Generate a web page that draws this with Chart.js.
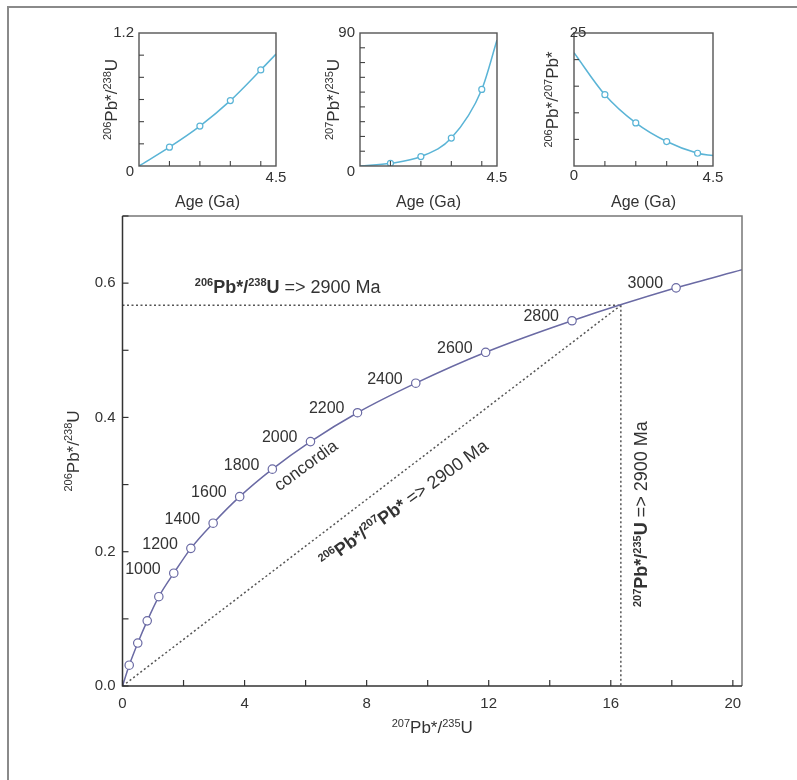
<!DOCTYPE html>
<html><head><meta charset="utf-8">
<script src="https://cdn.jsdelivr.net/npm/chart.js@4.4.0/dist/chart.umd.min.js"></script>
<style>
html,body{margin:0;padding:0;background:#fff;}
#wrap{position:relative;width:797px;height:780px;overflow:hidden;background:#fff;}
#frame{position:absolute;left:7px;top:6px;width:820px;height:820px;border-left:2px solid #8a8a8a;border-top:2px solid #8a8a8a;}
canvas{position:absolute;left:0;top:0;}
</style></head><body>
<div id="wrap"><div id="frame"></div>
<canvas id="cMain" width="797" height="780"></canvas>
<canvas id="cS1" width="797" height="780"></canvas>
<canvas id="cS2" width="797" height="780"></canvas>
<canvas id="cS3" width="797" height="780"></canvas>
</div>
<script>
// ---------- DATA ----------
// Main concordia diagram (ages in Ma; first = origin, last = curve end at the frame)
const concordiaAges = [0, 200, 400, 600, 800, 1000, 1200, 1400, 1600, 1800, 2000, 2200, 2400, 2600, 2800, 3000, null];
const concordiaX = [0, 0.22, 0.50, 0.81, 1.19, 1.68, 2.24, 2.97, 3.84, 4.91, 6.16, 7.70, 9.61, 11.90, 14.73, 18.14, 20.3];
const concordiaY = [0, 0.031, 0.064, 0.097, 0.133, 0.168, 0.205, 0.2425, 0.282, 0.323, 0.364, 0.407, 0.451, 0.497, 0.544, 0.593, 0.620];
const labelledAges = [1000, 1200, 1400, 1600, 1800, 2000, 2200, 2400, 2600, 2800, 3000];
// 2900 Ma reference point and its three construction lines
const refX = [0, 16.33];
const refY = [0, 0.567];
const mainXTicks = [0, 4, 8, 12, 16, 20];
const mainYTicks = [0.0, 0.2, 0.4, 0.6];

// Small panels: ratios versus age (Ga)
const smallAges = [0, 1, 2, 3, 4, 4.5];
const pb206u238 = [0, 0.17, 0.36, 0.59, 0.867, 1.01];
const pb207u235 = [0, 1.8, 6.4, 18.9, 51.8, 85.2];
const pb206pb207 = [21.3, 13.4, 8.1, 4.6, 2.4, 1.96];

// ---------- HELPERS ----------
const FONT = '"Liberation Sans", Arial, Helvetica, sans-serif';
const TXT = '#333';
function fontOf(p){ return (p.b ? 'bold ' : '') + p.s + 'px ' + FONT; }
function iso(m, size, bold){ return {t:m, s:Math.round(size*0.62), b:bold, up:size*0.38}; }
function txt(t, size, bold){ return {t:t, s:size, b:bold, up:0}; }
function drawRich(ctx, parts, x, y, rot, align){
  ctx.save();
  ctx.translate(x, y);
  ctx.rotate((rot||0) * Math.PI / 180);
  let w = 0;
  for (const p of parts){ ctx.font = fontOf(p); w += ctx.measureText(p.t).width; }
  let cx = align === 'left' ? 0 : (align === 'right' ? -w : -w/2);
  ctx.textAlign = 'left'; ctx.textBaseline = 'alphabetic'; ctx.fillStyle = TXT;
  for (const p of parts){ ctx.font = fontOf(p); ctx.fillText(p.t, cx, -p.up); cx += ctx.measureText(p.t).width; }
  ctx.restore();
}
function ratioLabel(a, e1, b, e2, size, bold, tail){
  const parts = [iso(a, size, bold), txt(e1, size, bold), iso(b, size, bold), txt(e2, size, bold)];
  if (tail) parts.push(txt(tail, size, false));
  return parts;
}
function pts(xs, ys){ return xs.map((x, i) => ({x:x, y:ys[i]})); }

// ---------- MAIN CHART ----------
const CONC = '#6a6aa4';
const DOT = '#555';
const mainDecor = {
  id:'mainDecor',
  afterDraw(chart){
    const ctx = chart.ctx, a = chart.chartArea, xs = chart.scales.x, ys = chart.scales.y;
    ctx.save();
    // frame
    ctx.lineWidth = 1.5;
    ctx.strokeStyle = '#777';
    ctx.beginPath(); ctx.moveTo(a.left, a.top); ctx.lineTo(a.right, a.top); ctx.lineTo(a.right, a.bottom); ctx.stroke();
    ctx.strokeStyle = '#333';
    ctx.beginPath(); ctx.moveTo(a.left, a.top); ctx.lineTo(a.left, a.bottom); ctx.lineTo(a.right, a.bottom); ctx.stroke();
    // inward ticks
    ctx.lineWidth = 1.2;
    for (const t of xs.ticks){ const px = xs.getPixelForValue(t.value); ctx.beginPath(); ctx.moveTo(px, a.bottom); ctx.lineTo(px, a.bottom-6); ctx.stroke(); }
    for (const t of ys.ticks){ const py = ys.getPixelForValue(t.value); ctx.beginPath(); ctx.moveTo(a.left, py); ctx.lineTo(a.left+6, py); ctx.stroke(); }
    // age labels
    const meta = chart.getDatasetMeta(0);
    ctx.font = '16px ' + FONT; ctx.fillStyle = TXT; ctx.textAlign = 'right'; ctx.textBaseline = 'middle';
    concordiaAges.forEach((age, i) => {
      if (labelledAges.includes(age)){ const el = meta.data[i]; ctx.fillText(String(age), el.x - 13, el.y - 4); }
    });
    ctx.restore();
    // annotations
    drawRich(ctx, ratioLabel('206', 'Pb*/', '238', 'U', 18, true, ' => 2900 Ma'), xs.getPixelForValue(2.37), ys.getPixelForValue(0.585), 0, 'left');
    drawRich(ctx, ratioLabel('206', 'Pb*/', '207', 'Pb*', 18, true, ' => 2900 Ma'), xs.getPixelForValue(9.33), ys.getPixelForValue(0.265), -36, 'center');
    drawRich(ctx, ratioLabel('207', 'Pb*/', '235', 'U', 18, true, ' => 2900 Ma'), xs.getPixelForValue(17.2), ys.getPixelForValue(0.256), -90, 'center');
    drawRich(ctx, [txt('concordia', 17, false)], xs.getPixelForValue(6.11), ys.getPixelForValue(0.322), -36, 'center');
    // axis titles
    drawRich(ctx, ratioLabel('207', 'Pb*/', '235', 'U', 17, false), (a.left + a.right)/2, a.bottom + 47, 0, 'center');
    drawRich(ctx, ratioLabel('206', 'Pb*/', '238', 'U', 17, false), a.left - 44, (a.top + a.bottom)/2, -90, 'center');
  }
};

new Chart(document.getElementById('cMain'), {
  type:'line',
  data:{datasets:[
    {data:pts(concordiaX, concordiaY), borderColor:CONC, borderWidth:1.5, cubicInterpolationMode:'monotone',
     pointRadius:concordiaAges.map(a => (a && a > 0) ? 4.2 : 0), pointBackgroundColor:'#fff', pointBorderColor:CONC, pointBorderWidth:1.2, order:0},
    {data:[{x:refX[0], y:refY[1]}, {x:refX[1], y:refY[1]}], borderColor:DOT, borderDash:[2,2.5], borderWidth:1.5, pointRadius:0, order:1},
    {data:[{x:refX[1], y:refY[1]}, {x:refX[1], y:refY[0]}], borderColor:DOT, borderDash:[2,2.5], borderWidth:1.5, pointRadius:0, order:1},
    {data:pts(refX, refY), borderColor:DOT, borderDash:[2,2.5], borderWidth:1.5, pointRadius:0, order:1}
  ]},
  options:{
    responsive:false, animation:false, devicePixelRatio:1, events:[],
    layout:{padding:{left:0, right:55, top:216, bottom:0}},
    plugins:{legend:{display:false}, tooltip:{enabled:false}},
    scales:{
      x:{type:'linear', min:0, max:20.3, afterFit:s => { s.height = 94; },
         grid:{display:false, drawTicks:false}, border:{display:false},
         ticks:{stepSize:2, includeBounds:false, autoSkip:false, maxRotation:0, padding:9, color:TXT, font:{size:15, family:FONT},
                callback:v => mainXTicks.includes(Math.round(v*100)/100) ? String(Math.round(v)) : ''}},
      y:{type:'linear', min:0, max:0.7, afterFit:s => { s.width = 122.5; },
         grid:{display:false, drawTicks:false}, border:{display:false},
         ticks:{stepSize:0.1, includeBounds:false, autoSkip:false, padding:7, color:TXT, font:{size:15, family:FONT},
                callback:v => mainYTicks.includes(Math.round(v*100)/100) ? v.toFixed(1) : ''}}
    }
  },
  plugins:[mainDecor]
});

// ---------- SMALL CHARTS ----------
const SMALL = '#5ab4d6';
function smallChart(id, ys, yMax, yStep, area, cfg){
  const decor = {
    id:'sd' + id,
    afterDraw(chart){
      const ctx = chart.ctx, a = chart.chartArea, xs = chart.scales.x, yS = chart.scales.y;
      ctx.save();
      ctx.strokeStyle = '#555'; ctx.lineWidth = 1.4;
      ctx.strokeRect(a.left, a.top, a.right - a.left, a.bottom - a.top);
      ctx.lineWidth = 1.1; ctx.strokeStyle = '#444';
      for (let v = 1; v <= 4; v++){ const px = xs.getPixelForValue(v); ctx.beginPath(); ctx.moveTo(px, a.bottom); ctx.lineTo(px, a.bottom-5); ctx.stroke(); }
      for (let k = 1; k * yStep < yMax - 1e-9; k++){ const py = yS.getPixelForValue(k * yStep); ctx.beginPath(); ctx.moveTo(a.left, py); ctx.lineTo(a.left+5, py); ctx.stroke(); }
      ctx.fillStyle = TXT; ctx.font = '15px ' + FONT; ctx.textBaseline = 'middle';
      ctx.textAlign = cfg.maxAlign; ctx.fillText(cfg.maxLabel, a.left + cfg.maxDx, a.top);
      ctx.textAlign = cfg.zeroAlign; ctx.fillText('0', a.left + cfg.zeroDx, a.bottom + cfg.zeroDy);
      ctx.textAlign = 'center'; ctx.fillText('4.5', a.right, a.bottom + 12);
      ctx.font = '16px ' + FONT; ctx.fillText('Age (Ga)', (a.left + a.right)/2, a.bottom + 37);
      ctx.restore();
      drawRich(ctx, cfg.title, a.left + cfg.titleDx, (a.top + a.bottom)/2, -90, 'center');
    }
  };
  new Chart(document.getElementById(id), {
    type:'line',
    data:{datasets:[{data:pts(smallAges, ys), borderColor:SMALL, borderWidth:1.5, cubicInterpolationMode:'monotone',
      pointRadius:smallAges.map(a => (a >= 1 && a <= 4) ? 3 : 0), pointBackgroundColor:'#fff', pointBorderColor:SMALL, pointBorderWidth:1.2}]},
    options:{
      responsive:false, animation:false, devicePixelRatio:1, events:[],
      layout:{padding:{left:area[0], right:797 - area[1], top:area[2], bottom:780 - area[3]}},
      plugins:{legend:{display:false}, tooltip:{enabled:false}},
      scales:{
        x:{type:'linear', min:0, max:4.5, afterFit:s => { s.height = 0; }, grid:{display:false, drawTicks:false}, border:{display:false}, ticks:{display:false}},
        y:{type:'linear', min:0, max:yMax, afterFit:s => { s.width = 0; }, grid:{display:false, drawTicks:false}, border:{display:false}, ticks:{display:false}}
      }
    },
    plugins:[decor]
  });
}
smallChart('cS1', pb206u238, 1.2, 0.2, [139, 276, 33, 166],
  {maxLabel:'1.2', maxAlign:'right', maxDx:-5, zeroAlign:'right', zeroDx:-5, zeroDy:6, titleDx:-22, title:ratioLabel('206', 'Pb*/', '238', 'U', 17, false)});
smallChart('cS2', pb207u235, 90, 10, [360, 497, 33, 166],
  {maxLabel:'90', maxAlign:'right', maxDx:-5, zeroAlign:'right', zeroDx:-5, zeroDy:6, titleDx:-21, title:ratioLabel('207', 'Pb*/', '235', 'U', 17, false)});
smallChart('cS3', pb206pb207, 25, 5, [574, 713, 33, 166],
  {maxLabel:'25', maxAlign:'center', maxDx:4, zeroAlign:'center', zeroDx:0, zeroDy:10, titleDx:-16, title:ratioLabel('206', 'Pb*/', '207', 'Pb*', 17, false)});
</script>
</body></html>
